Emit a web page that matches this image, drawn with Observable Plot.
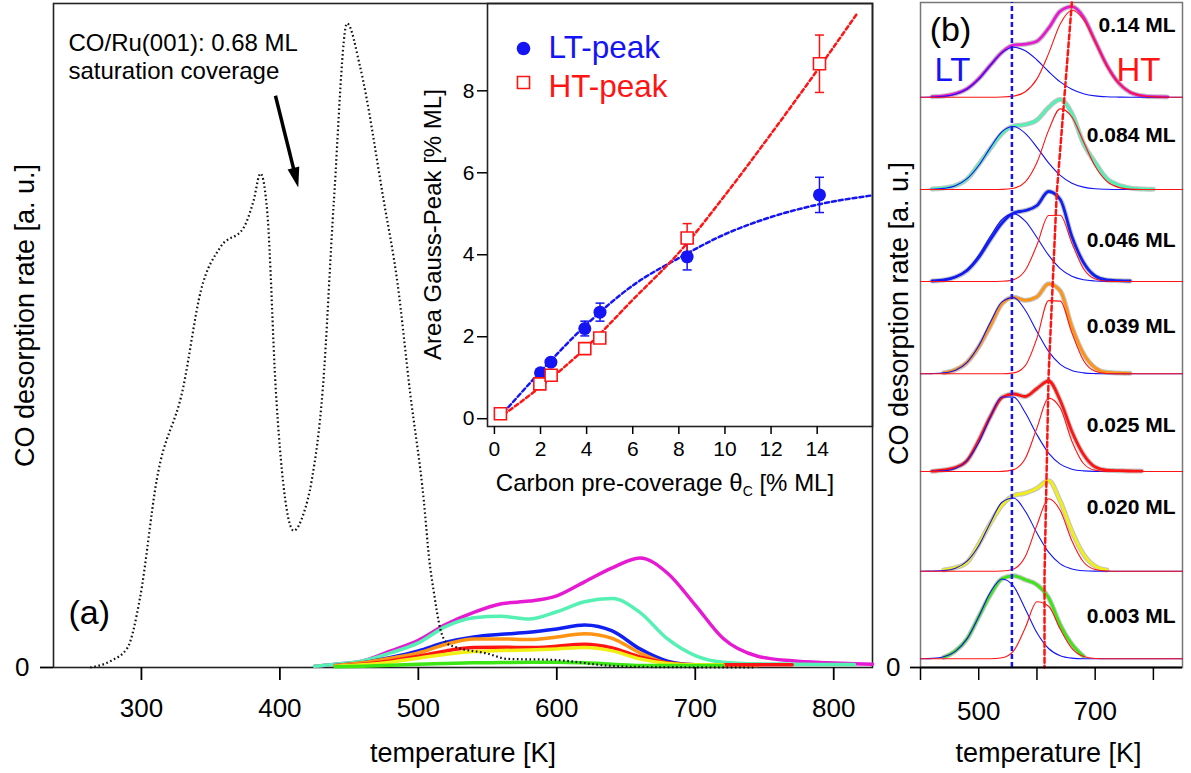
<!DOCTYPE html>
<html><head><meta charset="utf-8">
<script src="https://cdn.jsdelivr.net/npm/d3@7"></script>
<script src="https://cdn.jsdelivr.net/npm/@observablehq/plot@0.6"></script>
<style>
body{margin:0;background:#fff;}
#wrap{position:relative;width:1191px;height:773px;overflow:hidden;}
#wrap > div{position:absolute;top:0;}
</style></head>
<body><div id="wrap"><div id="pa" style="left:0"></div><div id="pi" style="left:420px"></div><div id="pb" style="left:880px"></div></div>
<script>
// ---------- panel (a): TPD spectra ----------
const tA = [425, 440, 460, 480, 500, 520, 540, 560, 580, 600, 620, 640, 660, 680, 700, 720, 745, 770, 795, 815, 828];
const a014 = [0.2, 0.5, 1.0, 2.5, 4.1, 6.5, 8.3, 9.6, 10.0, 10.8, 12.9, 15.0, 16.5, 14.2, 9.4, 4.4, 1.7, 1.0, 0.7, 0.55, 0.5];
const a084 = [0.2, 0.5, 1.0, 2.2, 3.7, 6.2, 7.5, 7.7, 7.3, 8.4, 9.9, 10.4, 8.3, 4.3, 1.8, 0.8, 0.55, 0.5, 0.45, 0.45, null];
const a046 = [null, 0.3, 0.7, 1.5, 2.5, 3.8, 4.6, 5.0, 5.3, 5.8, 6.4, 5.5, 2.8, 0.95, 0.4, 0.35, 0.3, null, null, null, null];
const a039 = [null, 0.3, 0.7, 1.4, 2.2, 3.5, 4.3, 4.3, 4.2, 4.6, 5.1, 4.4, 2.2, 0.65, 0.35, 0.3, 0.3, null, null, null, null];
const a025 = [null, 0.2, 0.5, 1.0, 1.7, 2.5, 3.0, 3.05, 3.0, 3.2, 3.5, 2.95, 1.6, 0.7, 0.4, 0.4, 0.4, 0.4, null, null, null];
const a020 = [null, 0.2, 0.4, 0.8, 1.4, 2.0, 2.4, 2.55, 2.65, 2.8, 3.0, 2.5, 1.3, 0.6, 0.4, 0.4, null, null, null, null, null];
const a003 = [null, 0.1, 0.2, 0.35, 0.5, 0.6, 0.7, 0.75, 0.8, 0.8, 0.7, 0.5, 0.3, 0.3, 0.3, 0.3, null, null, null, null, null];
// CO/Ru(001) saturation (dotted)
const satT = [263, 278, 290, 299, 311, 330, 343, 357, 374, 381, 386, 391, 397, 403, 410, 417, 423, 431, 439, 448.5, 458, 475, 485, 494, 504, 508, 511, 516, 521, 528, 550, 564, 598, 636, 655, 742];
const satV = [0, 1.0, 3.0, 10.5, 28.2, 42.0, 56.8, 63.3, 66.3, 70.3, 74.4, 68.3, 42.0, 26.7, 20.6, 23.1, 28.2, 42.0, 70.3, 97.0, 90.4, 70.3, 57.8, 41.5, 25.0, 16.0, 11.6, 5.7, 3.6, 3.0, 2.1, 1.3, 1.15, 0.3, 0.1, 0];
const arrowT = [396.8, 411.0];
const arrowV = [86.1, 74.2];
const annotA = ["CO/Ru(001): 0.68 ML", "saturation coverage"];

// ---------- inset ----------
const ltX = [2.0, 2.45, 3.92, 4.58, 8.36, 14.1];
const ltY = [1.12, 1.38, 2.2, 2.6, 3.95, 5.46];
const ltErr = [0.08, 0.08, 0.18, 0.22, 0.32, 0.43];
const htX = [0.26, 1.97, 2.46, 3.92, 4.57, 8.36, 14.1];
const htY = [0.12, 0.85, 1.06, 1.71, 1.97, 4.41, 8.66];
const htErr = [0.05, 0.05, 0.05, 0.08, 0.1, 0.35, 0.7];
const ltFitX = [0.4, 2, 4, 6, 8, 10, 12, 14, 16.4];
const ltFitY = [0.15, 1.15, 2.3, 3.25, 3.92, 4.5, 4.92, 5.22, 5.45];
const htFitX = [0.4, 2, 4, 6, 8, 10, 12, 14, 15.7];
const htFitY = [0.1, 0.78, 1.75, 2.9, 4.05, 5.45, 6.95, 8.5, 9.86];
const legendLabels = ["LT-peak", "HT-peak"];

// ---------- panel (b): Gauss fits ----------
const tB = [400, 420, 440, 460, 480, 500, 520, 540, 560, 580, 600, 620, 640, 660, 680, 700, 720, 740, 760, 780, 800, 825, 850];
const b014 = [null, 0.5, 1.2, 3.5, 8.5, 18.5, 32, 45, 52, 53, 56, 69, 86, 90.5, 80, 56, 32, 14.5, 5, 1.5, 0.5, 0.3, null];
const b014LT = [0, 0.2, 0.8, 3.0, 8.2, 18.0, 31.9, 44.6, 50, 46.4, 37.2, 25.7, 15.3, 7.9, 3.5, 1.3, 0.4, 0.1, 0, 0, 0, 0, 0];
const b014HT = [0, 0, 0, 0, 0, 0, 0, 0.2, 1.1, 5.4, 18.3, 43.6, 73.2, 87, 77.7, 55.3, 31.3, 14.2, 5.1, 1.5, 0.3, 0, 0];
const b084 = [null, 0.5, 1.5, 4, 10.5, 25, 41, 56, 63.5, 65, 69.5, 82, 90, 76, 46, 27, 11, 4.5, 1.5, 0.5, 0.3, null, null];
const b084LT = [0, 0.2, 1.1, 3.8, 10.8, 24.0, 41.9, 57.8, 63, 56.1, 42.2, 26.6, 14.1, 6.3, 2.4, 0.7, 0.2, 0, 0, 0, 0, 0, 0];
const b084HT = [0, 0, 0, 0, 0, 0, 0, 0.1, 1.3, 7.6, 27, 59.1, 80.6, 72.5, 47.8, 23.2, 8.2, 2.1, 0.4, 0, 0, 0, 0];
const b046 = [null, 0.5, 1.5, 4.5, 11, 24, 42, 58.5, 68.5, 71, 76, 90, 82, 45, 19, 5.5, 1.5, 0.8, 0.5, null, null, null, null];
const b046LT = [0, 0.3, 1.3, 4.5, 12.1, 26.2, 45.2, 62.0, 67.9, 60.3, 44.0, 26.3, 12.9, 5.2, 1.7, 0.5, 0.1, 0, 0, 0, 0, 0, 0];
const b046HT = [0, 0, 0, 0, 0, 0, 0, 0.2, 1.9, 11.2, 36.5, 66.0, 66.3, 38.3, 12.8, 2.5, 0.3, 0, 0, 0, 0, 0, 0];
const b039 = [null, null, 1, 4, 11.5, 27, 48, 70, 76.5, 73.5, 77, 90, 83, 47, 20, 6, 1.5, 0.8, 0.5, null, null, null, null];
const b039LT = [0, 0.2, 0.9, 3.6, 11.5, 28.0, 51.6, 71.9, 76.2, 63.6, 42.3, 22.4, 9.5, 3.2, 0.9, 0.2, 0, 0, 0, 0, 0, 0, 0];
const b039HT = [0, 0, 0, 0, 0, 0, 0, 0, 0.9, 8.2, 35.7, 73.2, 72.7, 40.9, 13.3, 2.5, 0.3, 0, 0, 0, 0, 0, 0];
const b025 = [null, 0.3, 1.5, 4, 11, 31, 55, 74, 77.5, 75, 83, 90.5, 71, 40, 17, 4.5, 1.3, 0.8, 0.5, 0.4, null, null, null];
const b025LT = [0, 0.1, 0.6, 3.0, 11.0, 28.9, 54.6, 74.5, 74.4, 58.7, 36.8, 18.4, 7.4, 2.3, 0.6, 0.1, 0, 0, 0, 0, 0, 0, 0];
const b025HT = [0, 0, 0, 0, 0, 0, 0, 0.1, 1.9, 12.9, 43.6, 73.4, 63.5, 30.3, 8.0, 1.2, 0.1, 0, 0, 0, 0, 0, 0];
const b020 = [null, null, 1.3, 3.5, 9, 27, 48, 66, 75.5, 78, 83, 90.5, 70, 40, 17, 5, 1.2, null, null, null, null, null, null];
const b020LT = [0, 0.1, 0.6, 2.9, 10.0, 25.5, 48.5, 68.9, 73.2, 59.9, 38.2, 19.0, 7.3, 2.2, 0.5, 0.1, 0, 0, 0, 0, 0, 0, 0];
const b020HT = [0, 0, 0, 0, 0, 0, 0, 0.2, 2.3, 14.7, 46.1, 72.4, 60.7, 30.5, 9.2, 1.7, 0.2, 0, 0, 0, 0, 0, 0];
const b003 = [null, null, 1.5, 8, 20, 42, 64, 80, 83, 79, 74, 61, 34, 14.7, 2.5, null, null, null, null, null, null, null, null];
const b003LT = [0, 0.4, 2.0, 7.4, 20.2, 42.2, 66.6, 79.8, 72.4, 49.8, 26.0, 10.3, 3.1, 0.7, 0.1, 0, 0, 0, 0, 0, 0, 0, 0];
const b003HT = [0, 0, 0, 0, 0, 0, 0, 1.0, 8.0, 31.1, 57.0, 52.5, 29.7, 10.4, 2.3, 0.3, 0, 0, 0, 0, 0, 0, 0];
const coverages = ["0.14 ML", "0.084 ML", "0.046 ML", "0.039 ML", "0.025 ML", "0.020 ML", "0.003 ML"];
const stackOffsets = [570.3, 478, 386, 293.7, 196, 96.3, 8.7];
const labelLift = [72, 54, 41, 48, 46, 64, 43];
const ltPeakT = [557];
const htLineT = [660, 634, 620, 613, 613];
const htLineV = [665, 474, 292, 92, 0];

// ---------- styling ----------
const FONT = '"Liberation Sans", Arial, Helvetica, sans-serif';
const colors = ["#e61ad2", "#55f0b4", "#1020f0", "#ff9414", "#ff1414", "#f0f014", "#3ce614"];
const BLUE = "#1414f5", RED = "#ff1414";
const seriesA = [a014, a084, a046, a039, a025, a020, a003];
const dataB = [b014, b084, b046, b039, b025, b020, b003];
const ltB = [b014LT, b084LT, b046LT, b039LT, b025LT, b020LT, b003LT];
const htB = [b014HT, b084HT, b046HT, b039HT, b025HT, b020HT, b003HT];

function rows(ts, vs, off = 0) {
  return ts.map((t, i) => ({t, v: vs[i] == null ? null : vs[i] + off})).filter(d => d.v != null);
}
const capSym = {draw(ctx) { ctx.moveTo(-4.5, 0); ctx.lineTo(4.5, 0); }};
const headSym = {draw(ctx) { ctx.moveTo(0, -13); ctx.lineTo(6, 7); ctx.lineTo(-6, 7); ctx.closePath(); }};

// ---------- main plot ----------
const mainMarks = [Plot.frame({stroke: "#222", strokeWidth: 1.6})];
seriesA.forEach((vals, i) => mainMarks.push(
  Plot.line(rows(tA, vals), {x: "t", y: "v", stroke: colors[i], strokeWidth: 3.5, curve: "monotone-x"})));
mainMarks.push(
  Plot.line(rows(satT, satV), {x: "t", y: "v", stroke: "#111", strokeWidth: 2.2, strokeDasharray: "1.6,2.6", strokeLinecap: "butt", curve: "monotone-x"}),
  Plot.link([{x1: arrowT[0], y1: arrowV[0], x2: arrowT[1], y2: arrowV[1]}], {x1: "x1", y1: "y1", x2: "x2", y2: "y2", stroke: "#000", strokeWidth: 3.5}),
  Plot.dot([{t: arrowT[1], v: arrowV[1]}], {x: "t", y: "v", symbol: headSym, r: 5, fill: "#000", stroke: "none", rotate: 166}),
  Plot.text([annotA.join("\n")], {text: d => d, frameAnchor: "top-left", dx: 15, dy: 28, lineAnchor: "top", lineHeight: 1.15, textAnchor: "start", fontSize: 24}),
  Plot.text(["(a)"], {text: d => d, frameAnchor: "bottom-left", dx: 15, dy: -54, textAnchor: "start", lineAnchor: "middle", fontSize: 34}),
  Plot.axisX({ticks: [300, 400, 500, 600, 700, 800], tickSize: 13, tickPadding: 18, strokeWidth: 1.8, label: null, fontSize: 26}),
  Plot.axisY({ticks: [0], tickSize: 13, tickPadding: 11, strokeWidth: 1.8, label: null, fontSize: 26}),
  Plot.text(["temperature [K]"], {text: d => d, frameAnchor: "bottom", dy: 86, lineAnchor: "middle", fontSize: 27}),
  Plot.text(["CO desorption rate [a. u.]"], {text: d => d, frameAnchor: "left", rotate: -90, dx: -28, dy: -20, textAnchor: "middle", lineAnchor: "middle", fontSize: 27})
);
const mainPlot = Plot.plot({
  width: 880, height: 773, marginLeft: 53, marginRight: 8, marginTop: 3, marginBottom: 106,
  style: {fontFamily: FONT, fontSize: "26px", color: "#000", background: "transparent", overflow: "visible"},
  x: {domain: [236.5, 828]}, y: {domain: [0, 100]},
  marks: mainMarks
});
document.getElementById("pa").appendChild(mainPlot);

// ---------- inset plot ----------
const ltPts = ltX.map((x, i) => ({x, y: ltY[i], e: ltErr[i]}));
const htPts = htX.map((x, i) => ({x, y: htY[i], e: htErr[i]}));
function errMarks(pts, col) {
  return [
    Plot.ruleX(pts, {x: "x", y1: d => d.y - d.e, y2: d => d.y + d.e, stroke: col, strokeWidth: 1.5}),
    Plot.dot(pts, {x: "x", y: d => d.y + d.e, symbol: capSym, fill: "none", stroke: col, strokeWidth: 1.5}),
    Plot.dot(pts, {x: "x", y: d => d.y - d.e, symbol: capSym, fill: "none", stroke: col, strokeWidth: 1.5})
  ];
}
const insetPlot = Plot.plot({
  width: 460, height: 500, marginLeft: 67, marginRight: 8, marginTop: 3, marginBottom: 74,
  style: {fontFamily: FONT, fontSize: "21px", color: "#000", background: "transparent", overflow: "visible"},
  x: {domain: [-0.3, 16.4]}, y: {domain: [-0.19, 10.13]},
  marks: [
    Plot.frame({stroke: "#222", strokeWidth: 1.6}),
    Plot.line(rows(ltFitX, ltFitY), {x: "t", y: "v", stroke: BLUE, strokeWidth: 2.5, strokeDasharray: "4,3", curve: "monotone-x"}),
    Plot.line(rows(htFitX, htFitY), {x: "t", y: "v", stroke: RED, strokeWidth: 2.5, strokeDasharray: "4,3", curve: "monotone-x"}),
    ...errMarks(ltPts, BLUE),
    ...errMarks(htPts, RED),
    Plot.dot(ltPts, {x: "x", y: "y", r: 6.5, fill: BLUE}),
    Plot.dot(htPts, {x: "x", y: "y", r: 6.8, symbol: "square", fill: "white", stroke: RED, strokeWidth: 1.6}),
    Plot.dot([legendLabels[0]], {frameAnchor: "top-left", dx: 36, dy: 45, r: 6.8, fill: BLUE}),
    Plot.dot([legendLabels[1]], {frameAnchor: "top-left", dx: 36, dy: 79, r: 6.8, symbol: "square", fill: "white", stroke: RED, strokeWidth: 1.6}),
    Plot.text([legendLabels[0]], {text: d => d, frameAnchor: "top-left", dx: 61, dy: 44, fontSize: 31.5, fill: BLUE, textAnchor: "start", lineAnchor: "middle"}),
    Plot.text([legendLabels[1]], {text: d => d, frameAnchor: "top-left", dx: 61, dy: 83, fontSize: 31.5, fill: RED, textAnchor: "start", lineAnchor: "middle"}),
    Plot.axisX({ticks: [0, 2, 4, 6, 8, 10, 12, 14], tickSize: 8, tickPadding: 7, strokeWidth: 1.5, label: null}),
    Plot.axisY({ticks: [0, 2, 4, 6, 8], tickSize: 10, tickPadding: 3, strokeWidth: 1.5, label: null}),
    Plot.text(["Carbon pre-coverage θc [% ML]"], {text: d => d, frameAnchor: "bottom", dx: -15, dy: 57, lineAnchor: "middle", fontSize: 24}),
    Plot.text(["Area Gauss-Peak [% ML]"], {text: d => d, frameAnchor: "left", rotate: -90, dx: -54, dy: 9.5, textAnchor: "middle", lineAnchor: "middle", fontSize: 24})
  ]
});
document.getElementById("pi").appendChild(insetPlot);
// subscript c in θc
(function () {
  const ns = "http://www.w3.org/2000/svg";
  const el = [...insetPlot.querySelectorAll("text")].find(t => t.textContent.includes("θc"));
  if (!el) return;
  const parts = el.textContent.split("θc");
  el.textContent = "";
  const a = document.createElementNS(ns, "tspan"); a.textContent = parts[0] + "θ";
  const b = document.createElementNS(ns, "tspan"); b.textContent = "C"; b.setAttribute("font-size", "14"); b.setAttribute("dy", "5");
  const c = document.createElementNS(ns, "tspan"); c.textContent = parts[1]; c.setAttribute("dy", "-5");
  el.append(a, b, c);
})();

// ---------- panel (b) plot ----------
const bMarks = [Plot.frame({stroke: "#777", strokeWidth: 1.5})];
dataB.forEach((vals, i) => {
  const off = stackOffsets[i];
  bMarks.push(
    Plot.line(rows(tB, vals, off), {x: "t", y: "v", stroke: "#c4c4c4", strokeWidth: 5, strokeDasharray: "3,1.5", curve: "monotone-x"}),
    Plot.line(rows(tB, vals, off), {x: "t", y: "v", stroke: colors[i], strokeWidth: 2.8, curve: "monotone-x"}),
    Plot.line(rows(tB, ltB[i], off), {x: "t", y: "v", stroke: BLUE, strokeWidth: 1.1, curve: "monotone-x"}),
    Plot.line(rows(tB, htB[i], off), {x: "t", y: "v", stroke: RED, strokeWidth: 1.1, curve: "monotone-x"})
  );
});
const covRows = coverages.map((c, i) => ({c, v: stackOffsets[i] + labelLift[i]}));
bMarks.push(
  Plot.ruleX(ltPeakT, {y1: 0, y2: 665, stroke: BLUE, strokeWidth: 2.5, strokeDasharray: "5,3"}),
  Plot.line(rows(htLineT, htLineV), {x: "t", y: "v", stroke: RED, strokeWidth: 2.5, strokeDasharray: "5,3"}),
  Plot.text(covRows, {y: "v", text: "c", frameAnchor: "right", dx: -7, textAnchor: "end", lineAnchor: "middle", fontSize: 21, fontWeight: "bold"}),
  Plot.text(["(b)"], {text: d => d, frameAnchor: "top-left", dx: 30, dy: 28, textAnchor: "middle", lineAnchor: "middle", fontSize: 34}),
  Plot.text(["LT"], {text: d => d, frameAnchor: "top-left", dx: 32, dy: 68, textAnchor: "middle", lineAnchor: "middle", fontSize: 33, fill: BLUE}),
  Plot.text(["HT"], {text: d => d, frameAnchor: "top-right", dx: -44, dy: 68, textAnchor: "middle", lineAnchor: "middle", fontSize: 33, fill: RED}),
  Plot.ruleY([0], {stroke: "#000", strokeWidth: 1.8}),
  Plot.axisX({ticks: [400, 500, 600, 700, 800], tickFormat: d => (d === 500 || d === 700) ? String(d) : "", tickSize: 13, tickPadding: 21, strokeWidth: 1.5, label: null, fontSize: 26}),
  Plot.axisY({ticks: [0], tickSize: 10, tickPadding: 10, strokeWidth: 1.8, label: null, fontSize: 26}),
  Plot.text(["temperature [K]"], {text: d => d, frameAnchor: "bottom", dx: -3, dy: 86, lineAnchor: "middle", fontSize: 27}),
  Plot.text(["CO desorption rate [a. u.]"], {text: d => d, frameAnchor: "left", rotate: -90, dx: -21, dy: -21.5, textAnchor: "middle", lineAnchor: "middle", fontSize: 27})
);
const bPlot = Plot.plot({
  width: 311, height: 773, marginLeft: 40, marginRight: 9, marginTop: 2, marginBottom: 106,
  style: {fontFamily: FONT, fontSize: "26px", color: "#000", background: "transparent", overflow: "visible"},
  x: {domain: [400, 850]}, y: {domain: [0, 665]},
  marks: bMarks
});
document.getElementById("pb").appendChild(bPlot);
</script>
</body></html>
